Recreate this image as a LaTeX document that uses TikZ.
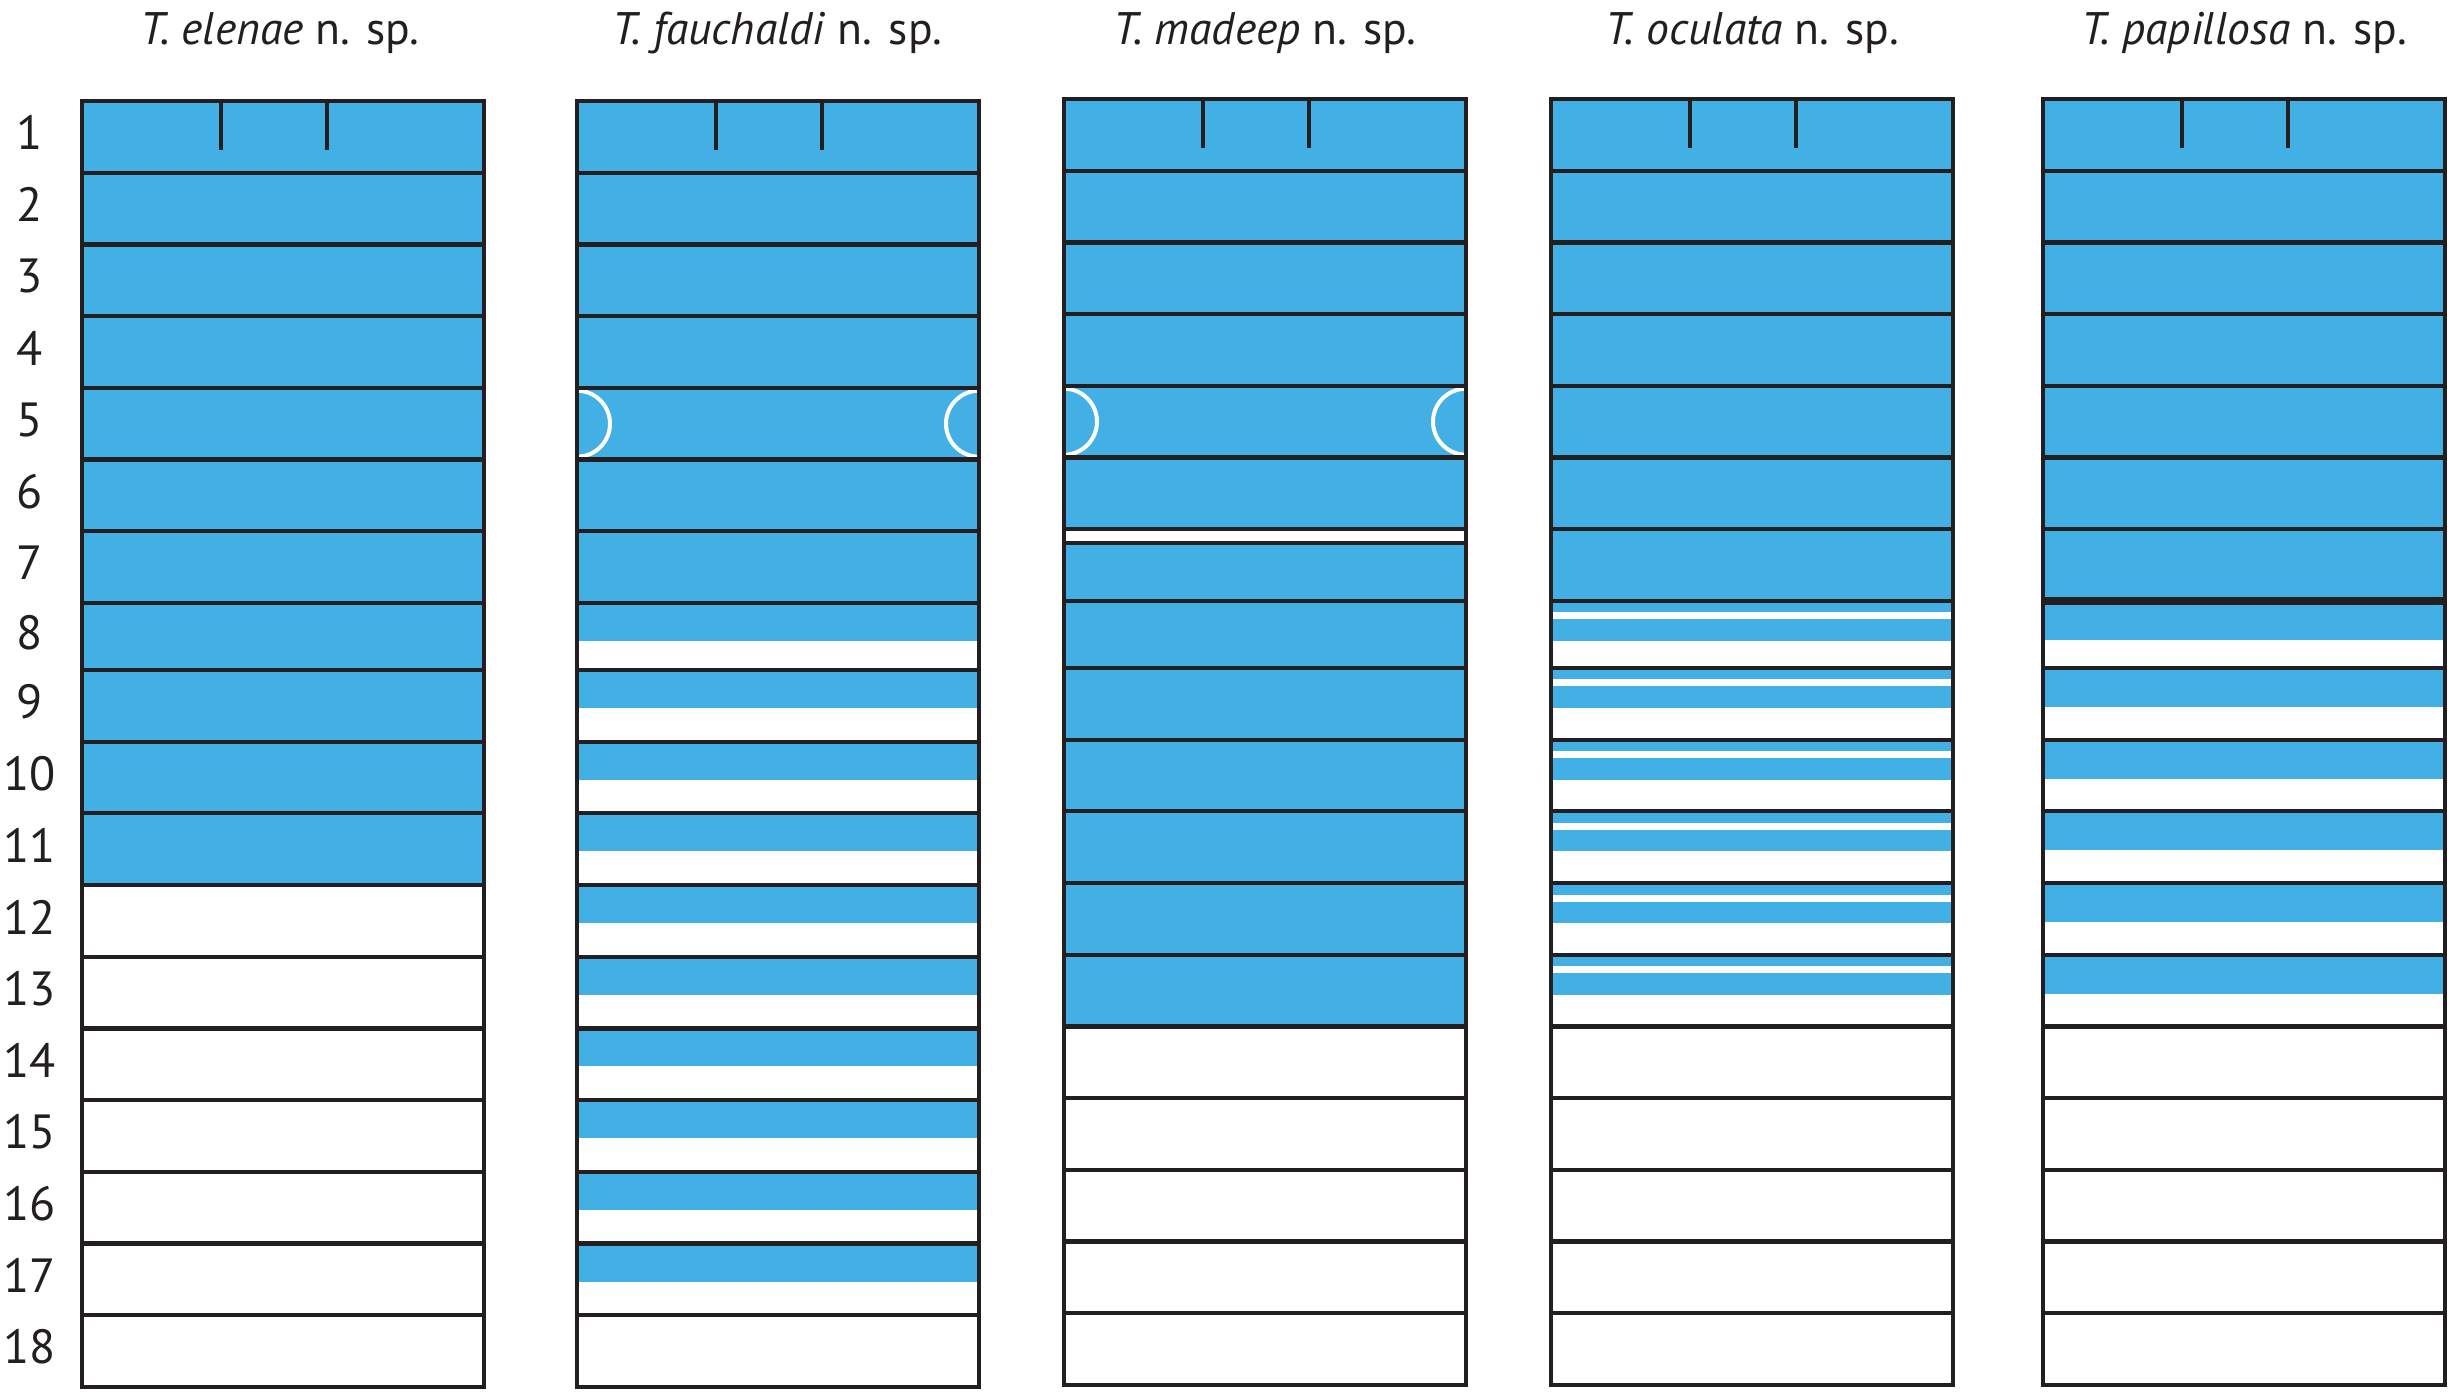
\documentclass[tikz,border=0pt]{standalone}
\usepackage{fontspec}
\setmainfont{PT Sans}
\definecolor{cblue}{RGB}{66,176,228}
\definecolor{cline}{HTML}{231F20}
\newcommand\mycolframe[2]{%
  \foreach \k in {1,...,17} \draw[gridline] (#1,{ry(\k)+#2}) -- ++(402,0);
  \draw[gridline] (#1,{ry(0)+#2}) rectangle ++(402,{ry(18)-ry(0)});
  \draw[gridline] (#1+139,{ry(0)+#2}) -- ++(0,49);
  \draw[gridline] (#1+245,{ry(0)+#2}) -- ++(0,49);
}
\begin{document}
\begin{tikzpicture}[x=0.25pt,y=-0.25pt,
  declare function={ry(\k)=(\k<=7)*(101+71.714*\k)+(\k>7)*(670+71.7*(\k-8));},
  gridline/.style={draw=cline,line width=1.05pt},
  bluefill/.style={fill=cblue},
  halfring/.style={draw=white,line width=1.0pt},
  title/.style={anchor=base,inner sep=0pt,font=\fontsize{11.4}{13}\selectfont,text=cline},
  numlbl/.style={anchor=center,inner sep=0pt,font=\fontsize{12}{14}\selectfont,text=cline}]
\fill[white] (0,0) rectangle (2457,1399);
\useasboundingbox (0,0) rectangle (2457,1399);

% ---------- titles ----------
\node[title] (t1) at (280,45) {\textit{T. elenae} n. sp.};
\node[title] (t2) at (777,45) {\textit{T. fauchaldi} n. sp.};
\node[title] (t3) at (1265,45) {\textit{T. madeep} n. sp.};
\node[title] (t4) at (1752,45) {\textit{T. oculata} n. sp.};
\node[title] (t5) at (2244,45) {\textit{T. papillosa} n. sp.};

% ---------- row numbers ----------
\foreach \k in {1,...,18}
  \node[numlbl] (n\k) at (30,{(ry(\k-1)+ry(\k))/2-4}) {\k};

% ---------- column 1: T. elenae ----------
\fill[bluefill] (82,{ry(0)}) rectangle (484,{ry(11)});

% ---------- column 2: T. fauchaldi ----------
\fill[bluefill] (577,{ry(0)}) rectangle (979,{ry(7)});
\foreach \k in {7,...,16}
  \fill[bluefill] (577,{ry(\k)}) rectangle (979,{ry(\k)+38});
\begin{scope}
  \clip (577,{ry(4)}) rectangle (979,{ry(5)});
  \draw[halfring] (577,{(ry(4)+ry(5))/2}) circle[radius=33];
  \draw[halfring] (979,{(ry(4)+ry(5))/2}) circle[radius=33];
\end{scope}

% ---------- column 3: T. madeep ----------
\fill[bluefill] (1064,{ry(0)-2}) rectangle (1466,{ry(13)-2});
\fill[white] (1064,{ry(6)-2}) rectangle (1466,{ry(6)+12});
\begin{scope}
  \clip (1064,{ry(4)-2}) rectangle (1466,{ry(5)-2});
  \draw[halfring] (1064,{(ry(4)+ry(5))/2-2}) circle[radius=33];
  \draw[halfring] (1466,{(ry(4)+ry(5))/2-2}) circle[radius=33];
\end{scope}

% ---------- column 4: T. oculata ----------
\fill[bluefill] (1551,{ry(0)-2}) rectangle (1953,{ry(7)-2});
\foreach \k in {7,...,12} {
  \fill[bluefill] (1551,{ry(\k)-2}) rectangle (1953,{ry(\k)+9.5});
  \fill[bluefill] (1551,{ry(\k)+16.5}) rectangle (1953,{ry(\k)+38});
}

% ---------- column 5: T. papillosa ----------
\fill[bluefill] (2043,{ry(0)-2}) rectangle (2445,{ry(7)-2});
\foreach \k in {7,...,12}
  \fill[bluefill] (2043,{ry(\k)-2}) rectangle (2445,{ry(\k)+37});

% ---------- frames and segment lines ----------
\mycolframe{82}{0}
\mycolframe{577}{0}
\mycolframe{1064}{-2}
\mycolframe{1551}{-2}
\mycolframe{2043}{-2}
\draw[gridline] (1064,{ry(6)+12}) -- ++(402,0);
\draw[gridline,line width=2pt] (2043,{ry(7)-2}) -- ++(402,0);
\end{tikzpicture}
\end{document}
